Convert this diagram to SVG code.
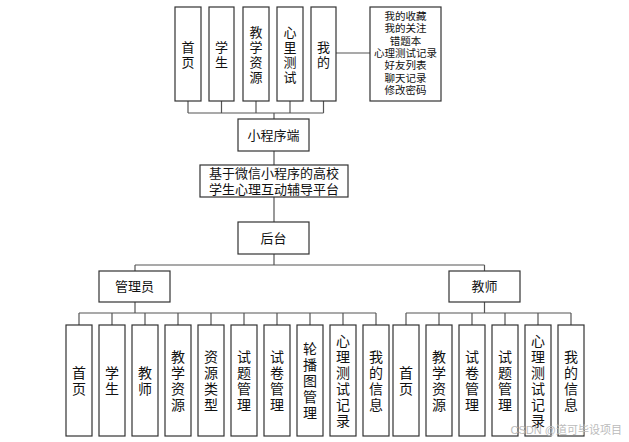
<svg xmlns="http://www.w3.org/2000/svg" width="629" height="442" viewBox="0 0 629 442">
<style>
.b{fill:#fff;stroke:#333;stroke-width:1.2}
.c{fill:none;stroke:#555;stroke-width:1.2}
text{font-family:"Liberation Sans","Noto Sans CJK SC",sans-serif;fill:#111;text-anchor:middle}
.t13{font-size:13px}
.t14{font-size:14px}
.t11{font-size:10.5px}
</style>
<rect width="629" height="442" fill="#fff"/>
<g id="connectors">
<path class="c" d="M336 53H370"/>
<path class="c" d="M188 101V113M221.5 101V113M256 101V113M290 101V113M323.5 101V113M188 113H323.5M274 113V119"/>
<path class="c" d="M274 151V165M274 197V222M274 254V265M135 265H484.5M135 265V271M484.5 265V271"/>
<path class="c" d="M135 302V313M79 313H376M79 313V325M112 313V325M145 313V325M178 313V325M211 313V325M244 313V325M277 313V325M310 313V325M343 313V325M376 313V325"/>
<path class="c" d="M484.5 302V313M406 313H571M406 313V325M439 313V325M472 313V325M505 313V325M538 313V325M571 313V325"/>
</g>
<g id="n-home"><rect class="b" x="175" y="7" width="26" height="94"/><text class="t13" x="188"><tspan x="188" y="52">首</tspan><tspan x="188" y="67">页</tspan></text></g>
<g id="n-student"><rect class="b" x="209" y="7" width="25" height="94"/><text class="t13"><tspan x="221.5" y="52">学</tspan><tspan x="221.5" y="67">生</tspan></text></g>
<g id="n-res"><rect class="b" x="243" y="7" width="26" height="94"/><text class="t13"><tspan x="256" y="37">教</tspan><tspan x="256" y="52">学</tspan><tspan x="256" y="67">资</tspan><tspan x="256" y="82">源</tspan></text></g>
<g id="n-test"><rect class="b" x="277" y="7" width="26" height="94"/><text class="t13"><tspan x="290" y="37">心</tspan><tspan x="290" y="52">里</tspan><tspan x="290" y="67">测</tspan><tspan x="290" y="82">试</tspan></text></g>
<g id="n-mine"><rect class="b" x="311" y="7" width="25" height="94"/><text class="t13"><tspan x="323.5" y="52">我</tspan><tspan x="323.5" y="67">的</tspan></text></g>
<g id="n-mine-list"><rect class="b" x="370" y="7" width="71" height="94"/><text class="t11"><tspan x="405.5" y="20">我的收藏</tspan><tspan x="405.5" y="32.3">我的关注</tspan><tspan x="405.5" y="44.6">错题本</tspan><tspan x="405.5" y="56.9">心理测试记录</tspan><tspan x="405.5" y="69.2">好友列表</tspan><tspan x="405.5" y="81.5">聊天记录</tspan><tspan x="405.5" y="93.8">修改密码</tspan></text></g>
<g id="n-mini"><rect class="b" x="238" y="119" width="71" height="32"/><text class="t13" x="273.5" y="140">小程序端</text></g>
<g id="n-platform"><rect class="b" x="200" y="165" width="148" height="32"/><text class="t13"><tspan x="274" y="178">基于微信小程序的高校</tspan><tspan x="274" y="194">学生心理互动辅导平台</tspan></text></g>
<g id="n-backend"><rect class="b" x="238" y="222" width="71" height="32"/><text class="t13" x="273.5" y="243">后台</text></g>
<g id="n-admin"><rect class="b" x="99" y="271" width="71" height="31"/><text class="t13" x="134.5" y="291">管理员</text></g>
<g id="n-teacher"><rect class="b" x="449" y="271" width="71" height="31"/><text class="t13" x="484.5" y="291">教师</text></g>
<g id="a-home"><rect class="b" x="66" y="325" width="26" height="111"/><text class="t14"><tspan x="79" y="378">首</tspan><tspan x="79" y="394">页</tspan></text></g>
<g id="a-student"><rect class="b" x="99" y="325" width="26" height="111"/><text class="t14"><tspan x="112" y="378">学</tspan><tspan x="112" y="394">生</tspan></text></g>
<g id="a-teacher"><rect class="b" x="132" y="325" width="26" height="111"/><text class="t14"><tspan x="145" y="378">教</tspan><tspan x="145" y="394">师</tspan></text></g>
<g id="a-res"><rect class="b" x="165" y="325" width="26" height="111"/><text class="t14"><tspan x="178" y="362">教</tspan><tspan x="178" y="378">学</tspan><tspan x="178" y="394">资</tspan><tspan x="178" y="410">源</tspan></text></g>
<g id="a-restype"><rect class="b" x="198" y="325" width="26" height="111"/><text class="t14"><tspan x="211" y="362">资</tspan><tspan x="211" y="378">源</tspan><tspan x="211" y="394">类</tspan><tspan x="211" y="410">型</tspan></text></g>
<g id="a-question"><rect class="b" x="231" y="325" width="26" height="111"/><text class="t14"><tspan x="244" y="362">试</tspan><tspan x="244" y="378">题</tspan><tspan x="244" y="394">管</tspan><tspan x="244" y="410">理</tspan></text></g>
<g id="a-paper"><rect class="b" x="264" y="325" width="26" height="111"/><text class="t14"><tspan x="277" y="362">试</tspan><tspan x="277" y="378">卷</tspan><tspan x="277" y="394">管</tspan><tspan x="277" y="410">理</tspan></text></g>
<g id="a-banner"><rect class="b" x="297" y="325" width="26" height="111"/><text class="t14"><tspan x="310" y="354">轮</tspan><tspan x="310" y="370">播</tspan><tspan x="310" y="386">图</tspan><tspan x="310" y="402">管</tspan><tspan x="310" y="418">理</tspan></text></g>
<g id="a-record"><rect class="b" x="330" y="325" width="26" height="111"/><text class="t14"><tspan x="343" y="346">心</tspan><tspan x="343" y="362">理</tspan><tspan x="343" y="378">测</tspan><tspan x="343" y="394">试</tspan><tspan x="343" y="410">记</tspan><tspan x="343" y="426">录</tspan></text></g>
<g id="a-info"><rect class="b" x="363" y="325" width="26" height="111"/><text class="t14"><tspan x="376" y="362">我</tspan><tspan x="376" y="378">的</tspan><tspan x="376" y="394">信</tspan><tspan x="376" y="410">息</tspan></text></g>
<g id="t-home"><rect class="b" x="393" y="325" width="26" height="111"/><text class="t14"><tspan x="406" y="378">首</tspan><tspan x="406" y="394">页</tspan></text></g>
<g id="t-res"><rect class="b" x="426" y="325" width="26" height="111"/><text class="t14"><tspan x="439" y="362">教</tspan><tspan x="439" y="378">学</tspan><tspan x="439" y="394">资</tspan><tspan x="439" y="410">源</tspan></text></g>
<g id="t-paper"><rect class="b" x="459" y="325" width="26" height="111"/><text class="t14"><tspan x="472" y="362">试</tspan><tspan x="472" y="378">卷</tspan><tspan x="472" y="394">管</tspan><tspan x="472" y="410">理</tspan></text></g>
<g id="t-question"><rect class="b" x="492" y="325" width="26" height="111"/><text class="t14"><tspan x="505" y="362">试</tspan><tspan x="505" y="378">题</tspan><tspan x="505" y="394">管</tspan><tspan x="505" y="410">理</tspan></text></g>
<g id="t-record"><rect class="b" x="525" y="325" width="26" height="111"/><text class="t14"><tspan x="538" y="346">心</tspan><tspan x="538" y="362">理</tspan><tspan x="538" y="378">测</tspan><tspan x="538" y="394">试</tspan><tspan x="538" y="410">记</tspan><tspan x="538" y="426">录</tspan></text></g>
<g id="t-info"><rect class="b" x="558" y="325" width="26" height="111"/><text class="t14"><tspan x="571" y="362">我</tspan><tspan x="571" y="378">的</tspan><tspan x="571" y="394">信</tspan><tspan x="571" y="410">息</tspan></text></g>
<text x="622" y="434" style="font-size:11px;fill:#bbb;text-anchor:end">CSDN @道可毕设项目</text>
</svg>
